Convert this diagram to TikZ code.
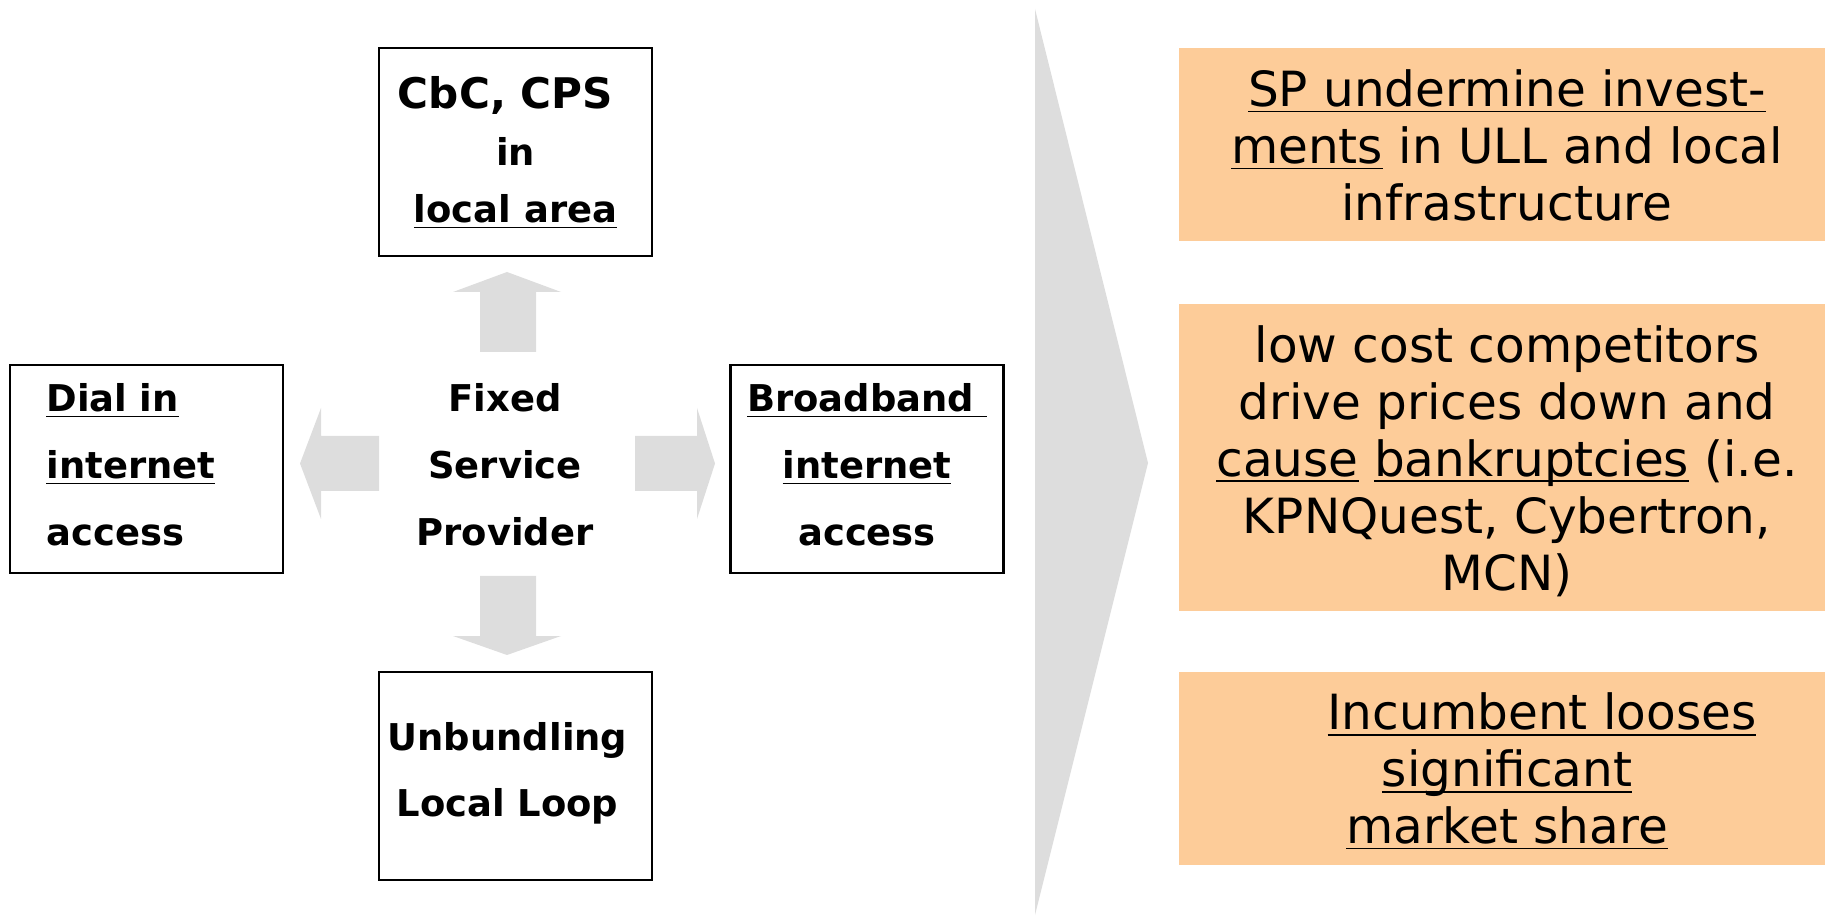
\documentclass[tikz,border=0pt]{standalone}
\usepackage{fontspec}
\setmainfont{DejaVu Sans}
\usepackage{tikz}

\definecolor{effectorange}{RGB}{253,204,153}
\definecolor{arrowgray}{RGB}{221,221,221}

\newcommand{\undl}[1]{{\underline{\smash{#1}}\vphantom{#1}}}

\tikzset{
  servicebox/.style={draw, line width=0.75pt, minimum width=2.73cm, minimum height=2.08cm,
    inner sep=0pt, align=center, font=\bfseries\fontsize{10.5}{19}\selectfont},
  effectbox/.style={fill=effectorange, minimum width=6.46cm, inner sep=0pt},
  effecttext/.style={align=center, font=\fontsize{13.8}{16.2}\selectfont},
  blockarrow/.style={fill=arrowgray},
}

\begin{document}
\begin{tikzpicture}
            \useasboundingbox (0,0) rectangle (18.25,9.15);

            % big chevron
            \fill[blockarrow] (10.35,9.06) -- (11.48,4.52) -- (10.35,0) -- cycle;

            % services round the provider
            \node[font=\bfseries\fontsize{10.5}{19}\selectfont, align=center] (fsp) at (5.05,4.50) {Fixed\\ Service\\ Provider};
            \node[servicebox, font=\bfseries\fontsize{10.5}{16.2}\selectfont, text depth=0.05cm] (cbc) at (5.155,7.63)
                {{\fontsize{12}{16.2}\selectfont CbC, CPS\hspace*{0.2cm}\mbox{}}\\ in\\ \undl{local area}};
            \node[servicebox, align=left, text width=2.0cm] (dialin) at (1.465,4.46)
                {\undl{Dial in}\\ \undl{internet}\\ access\rule[-0.09cm]{0pt}{0pt}};
            \node[servicebox, text depth=0.09cm] (broadband) at (8.67,4.46)
                {\undl{Broadband\ }\\ \undl{internet}\\ access};
            \node[servicebox, text depth=0.13cm] (ull) at (5.155,1.39)
                {Unbundling\hspace*{0.16cm}\mbox{}\\ Local Loop\hspace*{0.16cm}\mbox{}};

            % block arrows
            \fill[blockarrow] (4.80,5.63) -- (4.80,6.23) -- (4.53,6.23) -- (5.07,6.43)
                -- (5.61,6.23) -- (5.36,6.23) -- (5.36,5.63) -- cycle;
            \fill[blockarrow] (4.80,3.39) -- (4.80,2.79) -- (4.53,2.79) -- (5.07,2.60)
                -- (5.61,2.79) -- (5.36,2.79) -- (5.36,3.39) -- cycle;
            \fill[blockarrow] (3.79,4.79) -- (3.21,4.79) -- (3.21,5.07) -- (3.00,4.515)
                -- (3.21,3.96) -- (3.21,4.24) -- (3.79,4.24) -- cycle;
            \fill[blockarrow] (6.35,4.79) -- (6.97,4.79) -- (6.97,5.07) -- (7.15,4.515)
                -- (6.97,3.96) -- (6.97,4.24) -- (6.35,4.24) -- cycle;

            % effects
            \node[effectbox, minimum height=1.93cm] (invest) at (15.02,7.705) {};
            \node[effecttext] (investtext) at ([xshift=0.05cm,yshift=-0.01cm]invest.center)
                {\undl{SP undermine invest-}\\ \undl{ments} in ULL and local\\ infrastructure};
            \node[effectbox, minimum height=3.07cm] (prices) at (15.02,4.575) {};
            \node[effecttext] (pricestext) at ([xshift=0.05cm,yshift=-0.035cm]prices.center)
                {low cost competitors\\ drive prices down and\\ \undl{cause} \undl{bankruptcies} (i.e.\\ KPNQuest, Cybertron,\\ MCN)};
            \node[effectbox, minimum height=1.93cm] (share) at (15.02,1.465) {};
            \node[effecttext] (sharetext) at ([xshift=0.05cm,yshift=-0.035cm]share.center)
                {\hspace*{0.7cm}\undl{Incumbent looses}\\ \undl{significant}\\ \undl{market share}};
        \end{tikzpicture}
\end{document}
